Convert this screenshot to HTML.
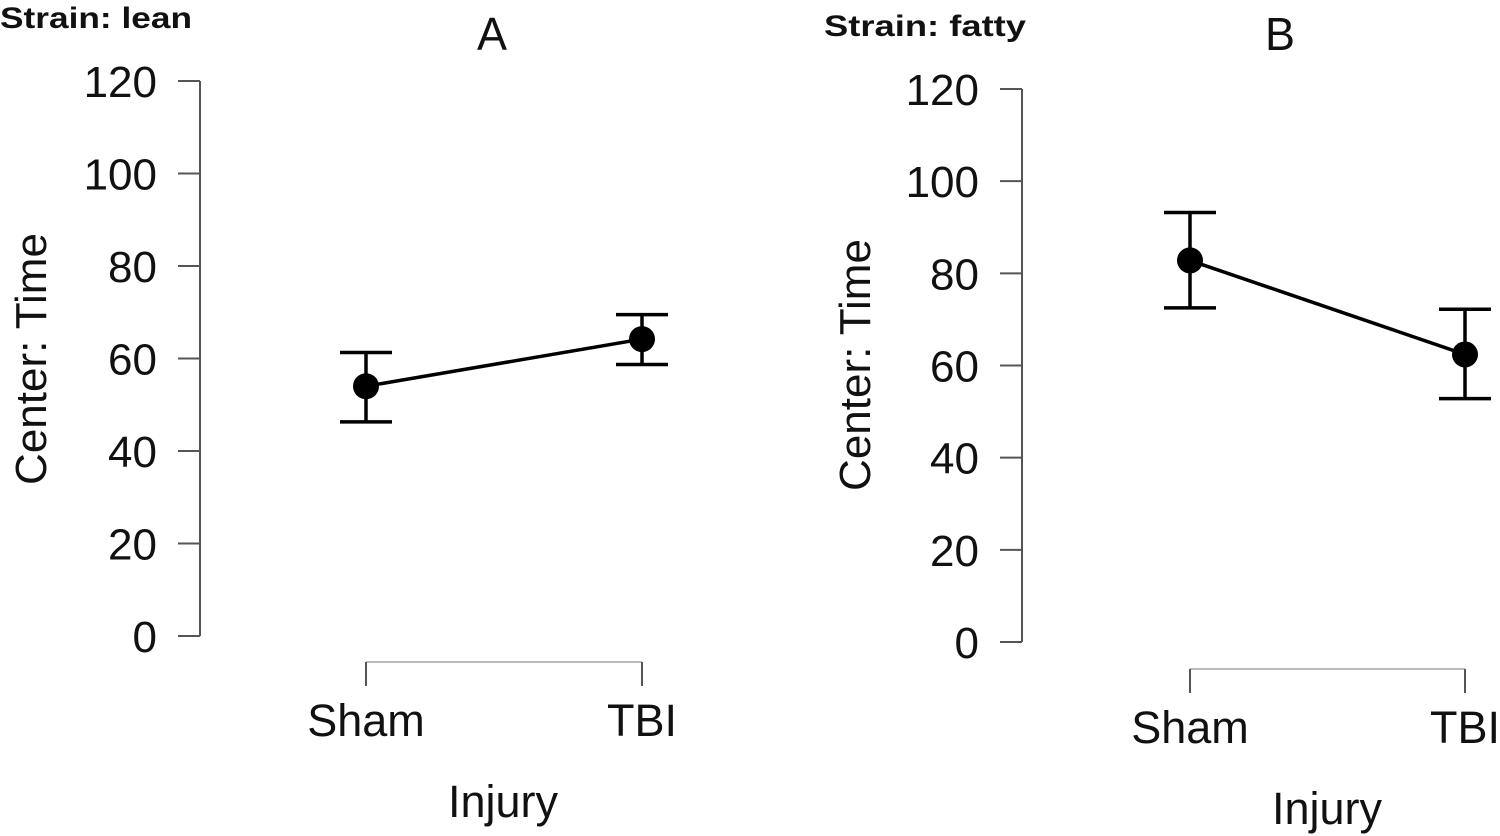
<!DOCTYPE html>
<html><head><meta charset="utf-8"><style>
html,body{margin:0;padding:0;background:#fff;}
svg{display:block;}
text{font-family:"Liberation Sans",Arial,sans-serif;fill:#111;}
</style></head><body>
<svg id="chart" width="1500" height="836" viewBox="0 0 1500 836" xmlns="http://www.w3.org/2000/svg"></svg>
<script>
const categories = ["Sham", "TBI"];
const yTicks = [0, 20, 40, 60, 80, 100, 120];
const leanMeans = [54, 64.2];
const leanLower = [46.3, 58.7];
const leanUpper = [61.3, 69.5];
const fattyMeans = [82.8, 62.4];
const fattyLower = [72.5, 52.8];
const fattyUpper = [93.2, 72.2];

const NS = "http://www.w3.org/2000/svg";
const svg = document.getElementById('chart');
function mk(tag, attrs, parent) {
  const e = document.createElementNS(NS, tag);
  for (const k in attrs) e.setAttribute(k, attrs[k]);
  (parent || svg).appendChild(e);
  return e;
}

function panel(cfg, means, lower, upper) {
  const g = mk('g', {});
  
  
  const y = v => cfg.y0 + (cfg.y120 - cfg.y0) * v / 120;
  const x = i => cfg.xs[0] + (cfg.xs[1] - cfg.xs[0]) * i / (categories.length - 1);

  const st = mk('text', {x: cfg.stX, y: cfg.stY, 'font-size': 30, 'font-weight': 'bold', textLength: cfg.stW, lengthAdjust: 'spacingAndGlyphs'}, g);
  st.textContent = cfg.strain;
  
  
  const pl = mk('text', {x: cfg.letterX, y: cfg.letterY, 'font-size': 46, 'text-anchor': 'middle', textLength: 30, lengthAdjust: 'spacingAndGlyphs'}, g);
  pl.textContent = cfg.letter;
  
  

  const ya = mk('line', {x1: cfg.ax, x2: cfg.ax, y1: y(0), y2: y(120), stroke: '#555', 'stroke-width': 2}, g);
  
  
  yTicks.forEach(t => {
    const tk = mk('line', {x1: cfg.ax - 22, x2: cfg.ax, y1: y(t), y2: y(t), stroke: '#555', 'stroke-width': 2}, g);
    
    
    const tl = mk('text', {x: cfg.ax - 43, y: y(t) + 16, 'font-size': 44, 'text-anchor': 'end'}, g);
    tl.textContent = t;
    
    
  });
  const yt = mk('text', {x: 0, y: 0, 'font-size': 44, 'text-anchor': 'middle', transform: `translate(${cfg.ytX},${cfg.ytY}) rotate(-90)`}, g);
  yt.textContent = 'Center: Time';
  
  

  const xa = mk('line', {x1: x(0), x2: x(1), y1: cfg.xAxY, y2: cfg.xAxY, stroke: '#bbb', 'stroke-width': 2}, g);
  
  
  categories.forEach((c, i) => {
    const tk = mk('line', {x1: x(i), x2: x(i), y1: cfg.xAxY, y2: cfg.xAxY + 24, stroke: '#555', 'stroke-width': 2}, g);
    
    
    const tl = mk('text', {x: x(i), y: cfg.xAxY + 74, 'font-size': 45, 'text-anchor': 'middle'}, g);
    tl.textContent = c;
    
    
  });
  const xt = mk('text', {x: cfg.xtX, y: cfg.xAxY + 155, 'font-size': 45, 'text-anchor': 'middle'}, g);
  xt.textContent = 'Injury';
  
  

  categories.forEach((c, i) => {
    const eb = mk('g', {stroke: '#000', 'stroke-width': 3.5}, g);
    
    
    mk('line', {x1: x(i), x2: x(i), y1: y(lower[i]), y2: y(upper[i])}, eb);
    mk('line', {x1: x(i) - 26, x2: x(i) + 26, y1: y(lower[i]), y2: y(lower[i])}, eb);
    mk('line', {x1: x(i) - 26, x2: x(i) + 26, y1: y(upper[i]), y2: y(upper[i])}, eb);
  });
  const ln = mk('polyline', {points: means.map((m, i) => x(i) + ',' + y(m)).join(' '), fill: 'none', stroke: '#000', 'stroke-width': 3.5}, g);
  
  
  means.forEach((m, i) => {
    const p = mk('circle', {cx: x(i), cy: y(m), r: 13, fill: '#000'}, g);
    
    
  });
}

panel({id: 'lean', strain: 'Strain: lean', stX: 0, stY: 28, stW: 192, letter: 'A', letterX: 492, letterY: 50,
  ax: 200, y0: 636, y120: 81, xs: [366, 642], xAxY: 662, ytX: 46, ytY: 359, xtX: 503}, leanMeans, leanLower, leanUpper);
panel({id: 'fatty', strain: 'Strain: fatty', stX: 824, stY: 36, stW: 202, letter: 'B', letterX: 1280, letterY: 50,
  ax: 1022, y0: 642, y120: 89, xs: [1190, 1465], xAxY: 669, ytX: 870, ytY: 365, xtX: 1327}, fattyMeans, fattyLower, fattyUpper);
</script>
</body></html>
